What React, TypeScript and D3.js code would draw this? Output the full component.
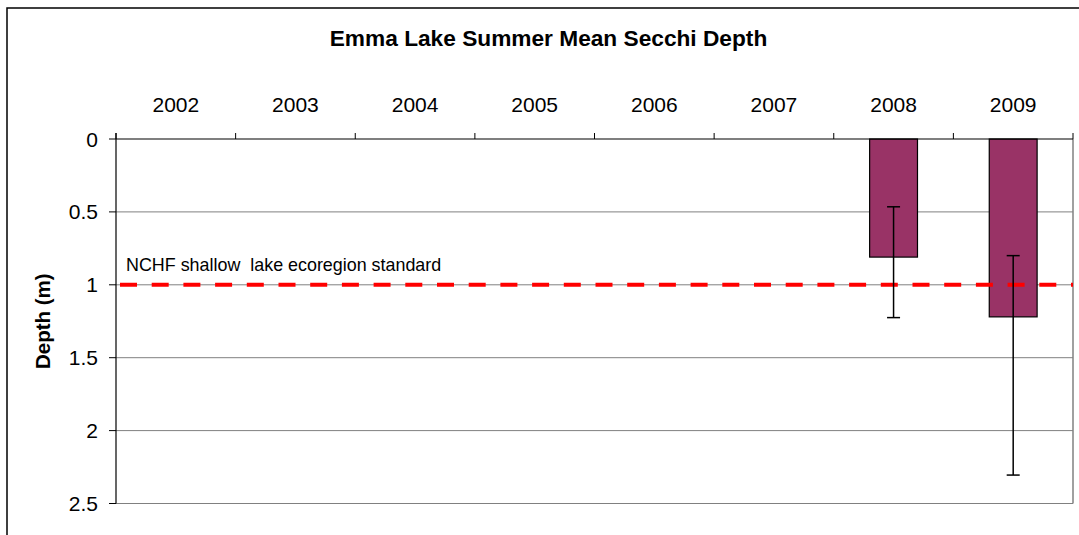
import React from "react";
import * as d3 from "d3";

const years = ["2002", "2003", "2004", "2005", "2006", "2007", "2008", "2009"];
const secchiMean: (number | null)[] = [null, null, null, null, null, null, 0.81, 1.22];
const errTop: (number | null)[] = [null, null, null, null, null, null, 0.465, 0.8];
const errBottom: (number | null)[] = [null, null, null, null, null, null, 1.225, 2.305];
const yTicks = [0, 0.5, 1, 1.5, 2, 2.5];
const standardValue = 1;
const standardLabel = "NCHF shallow  lake ecoregion standard";
const title = "Emma Lake Summer Mean Secchi Depth";
const yLabel = "Depth (m)";

const W = 1079;
const H = 535;
const plot = { left: 116, right: 1073, top: 139, bottom: 503.5 };
const font = "'Liberation Sans', Arial, sans-serif";

export default function App() {
  const x = d3.scaleBand<string>().domain(years).range([plot.left, plot.right]).padding(0);
  const y = d3.scaleLinear().domain([0, 2.5]).range([plot.top, plot.bottom]);
  const bw = x.bandwidth() * 0.4;
  const cap = 13;

  return (
    <svg width={W} height={H} style={{ position: "absolute", left: 0, top: 0, background: "#fff" }}>
      <rect x={0} y={0} width={W} height={H} fill="#fff" />
      {/* outer chart border */}
      <rect x={7} y={8} width={W + 20} height={H + 20} fill="none" stroke="#000" strokeWidth={1.5} />

      {/* title */}
      <text x={548.5} y={46} textAnchor="middle" fontFamily={font} fontWeight="bold" fontSize={22.7} fill="#000">
        {title}
      </text>

      {/* gridlines */}
      {yTicks.slice(1).map((t) => (
        <line key={"g" + t} x1={plot.left} x2={plot.right} y1={y(t)} y2={y(t)} stroke="#808080" strokeWidth={1} />
      ))}
      {/* right plot border */}
      <line x1={plot.right} x2={plot.right} y1={plot.top} y2={plot.bottom} stroke="#808080" strokeWidth={1.5} />

      {/* bars */}
      {years.map((yr, i) => {
        const v = secchiMean[i];
        if (v == null) return null;
        const cx = (x(yr) as number) + x.bandwidth() / 2;
        return (
          <rect key={"b" + yr} x={cx - bw / 2} y={y(0)} width={bw} height={y(v) - y(0)} fill="#993366" stroke="#000" strokeWidth={1.2} />
        );
      })}

      {/* standard line */}
      <line x1={plot.left + 4} x2={plot.right} y1={y(standardValue)} y2={y(standardValue)} stroke="#ff0000" strokeWidth={4} strokeDasharray="17,14.7" />
      <text x={126} y={271} fontFamily={font} fontSize={17.9} fill="#000" style={{ whiteSpace: "pre" }}>
        {standardLabel}
      </text>

      {/* error bars */}
      {years.map((yr, i) => {
        const a = errTop[i];
        const b = errBottom[i];
        if (a == null || b == null) return null;
        const cx = (x(yr) as number) + x.bandwidth() / 2;
        return (
          <g key={"e" + yr} stroke="#000" strokeWidth={1.5}>
            <line x1={cx} x2={cx} y1={y(a)} y2={y(b)} />
            <line x1={cx - cap / 2} x2={cx + cap / 2} y1={y(a)} y2={y(a)} />
            <line x1={cx - cap / 2} x2={cx + cap / 2} y1={y(b)} y2={y(b)} />
          </g>
        );
      })}

      {/* top x axis */}
      <line x1={plot.left} x2={plot.right} y1={plot.top} y2={plot.top} stroke="#000" strokeWidth={1.2} />
      {[...years.map((yr) => x(yr) as number), plot.right].map((px, i) => (
        <line key={"xt" + i} x1={px} x2={px} y1={plot.top - 6} y2={plot.top} stroke="#000" strokeWidth={1} />
      ))}
      {years.map((yr) => (
        <text key={"xl" + yr} x={(x(yr) as number) + x.bandwidth() / 2} y={112} textAnchor="middle" fontFamily={font} fontSize={21} fill="#000">
          {yr}
        </text>
      ))}

      {/* left y axis */}
      <line x1={plot.left} x2={plot.left} y1={plot.top - 6} y2={plot.bottom} stroke="#000" strokeWidth={1.2} />
      {yTicks.map((t) => (
        <g key={"yt" + t}>
          <line x1={plot.left - 7} x2={plot.left} y1={y(t)} y2={y(t)} stroke="#000" strokeWidth={1} />
          <text x={98} y={y(t) + 7.5} textAnchor="end" fontFamily={font} fontSize={21} fill="#000">
            {t}
          </text>
        </g>
      ))}

      <text transform={`translate(50, ${(plot.top + plot.bottom) / 2}) rotate(-90)`} textAnchor="middle" fontFamily={font} fontWeight="bold" fontSize={20.5} fill="#000">
        {yLabel}
      </text>
    </svg>
  );
}
